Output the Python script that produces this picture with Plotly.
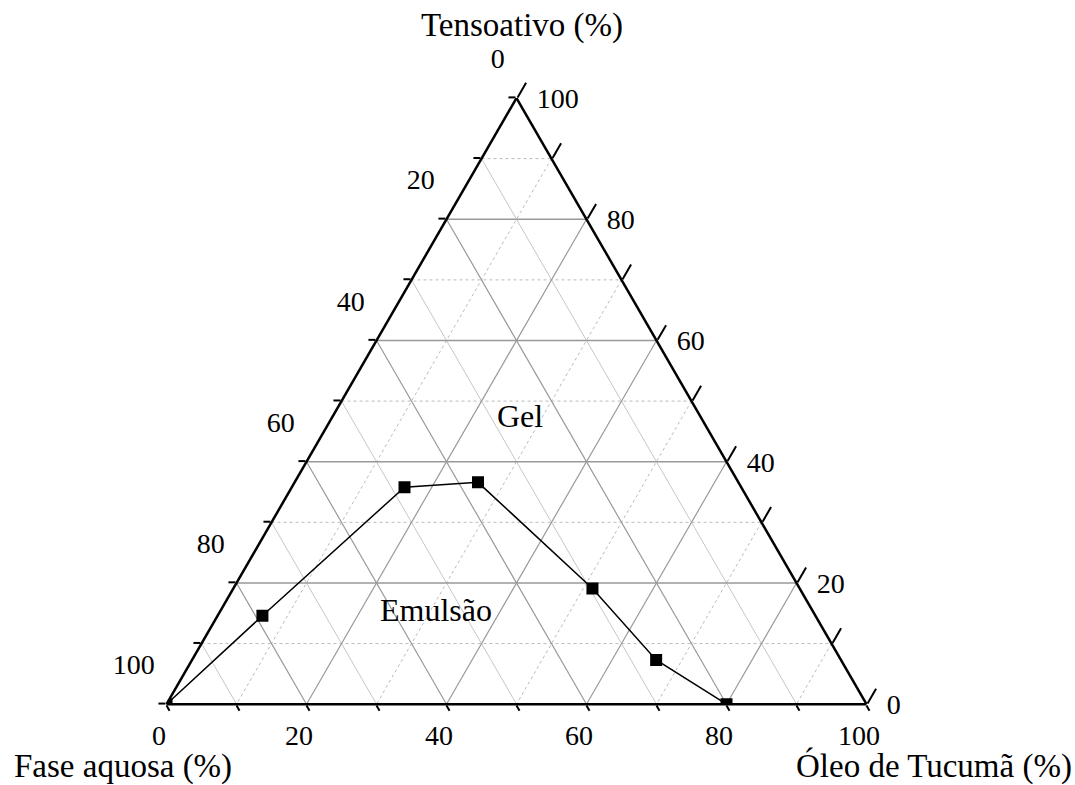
import plotly.graph_objects as go

# ---- data (percent) ----
fase_aquosa = [100.0, 79.0, 48.1, 37.2, 29.6, 26.4, 20.0]
tensoativo = [0.0, 14.6, 35.8, 36.6, 19.1, 7.3, 0.0]
oleo_tucuma = [0.0, 6.4, 16.1, 26.2, 51.3, 66.3, 80.0]

region_names = ["Gel", "Emulsão"]
region_aquosa = [26, 54]
region_tensoativo = [47, 15]
region_oleo = [27, 31]

tick_values = [0, 10, 20, 30, 40, 50, 60, 70, 80, 90, 100]
major_values = [0, 20, 40, 60, 80, 100]
major_grid = [20, 40, 60, 80]
minor_grid = [10, 30, 50, 70, 90]

axis_titles = ["Tensoativo (%)", "Fase aquosa (%)", "Óleo de Tucumã (%)"]

FONT = "Liberation Serif"
TOTAL = 100


def edge_labels(values, fmt):
    # label shown on an edge = complementary component (100 - v)
    return [fmt.format(TOTAL - v) if v in major_values else "" for v in values]


def grid_lines(values, axis):
    a, b, c = [], [], []
    for v in values:
        r = TOTAL - v
        if axis == "a":
            a += [v, v, None]; b += [r, 0, None]; c += [0, r, None]
        elif axis == "b":
            b += [v, v, None]; a += [r, 0, None]; c += [0, r, None]
        else:
            c += [v, v, None]; a += [r, 0, None]; b += [0, r, None]
    return a, b, c


fig = go.Figure()

grid_styles = [
    ("a", minor_grid, dict(color="#bbbbbb", width=1, dash="3px,3px")),
    ("c", minor_grid, dict(color="#bbbbbb", width=1, dash="3px,3px")),
    ("b", minor_grid, dict(color="#c6c6c6", width=1)),
    ("a", major_grid, dict(color="#999999", width=1.6)),
    ("b", major_grid, dict(color="#999999", width=1.2)),
    ("c", major_grid, dict(color="#999999", width=1.2)),
]
for axis, vals, style in grid_styles:
    ga, gb, gc = grid_lines(vals, axis)
    fig.add_trace(go.Scatterternary(a=ga, b=gb, c=gc, mode="lines", line=style,
                                    hoverinfo="skip", showlegend=False))

fig.add_trace(go.Scatterternary(
    a=tensoativo, b=fase_aquosa, c=oleo_tucuma, mode="lines+markers",
    line=dict(color="black", width=1.5),
    marker=dict(symbol="square", size=12, color="black"),
    showlegend=False))

fig.add_trace(go.Scatterternary(
    a=region_tensoativo, b=region_aquosa, c=region_oleo, mode="text",
    text=region_names, textfont=dict(family=FONT, size=32, color="black"),
    showlegend=False, hoverinfo="skip"))

axis_common = dict(
    tickmode="array", tickvals=tick_values, ticks="outside",
    tickwidth=1.5, tickcolor="black", showgrid=False, showline=True,
    linecolor="black", linewidth=2.5, min=0,
    tickfont=dict(family=FONT, size=28, color="black"),
    title=dict(text=""),
)

fig.update_layout(
    width=1075, height=785,
    margin=dict(l=0, r=0, t=0, b=0),
    paper_bgcolor="white",
    font=dict(family=FONT, color="black"),
    ternary=dict(
        sum=TOTAL,
        bgcolor="white",
        domain=dict(x=[0.13047, 0.83047], y=[0.10294, 0.87514]),
        aaxis=dict(axis_common, ticklen=7,
                   ticktext=edge_labels(tick_values, "{}<br> <br> ")),
        baxis=dict(axis_common, ticklen=6,
                   ticktext=edge_labels(tick_values, "{}&nbsp;&nbsp;&nbsp;")),
        caxis=dict(axis_common, ticklen=17,
                   ticktext=edge_labels(tick_values, " <br>&nbsp;{}")),
    ),
    annotations=[
        dict(text=axis_titles[0], x=0.4853, y=0.9674),
        dict(text=axis_titles[1], x=0.1140, y=0.0242),
        dict(text=axis_titles[2], x=0.8690, y=0.0242),
    ],
)
fig.update_annotations(xref="paper", yref="paper", xanchor="center", yanchor="middle",
                       showarrow=False, font=dict(family=FONT, size=33, color="black"))

fig.write_html("out.html")
